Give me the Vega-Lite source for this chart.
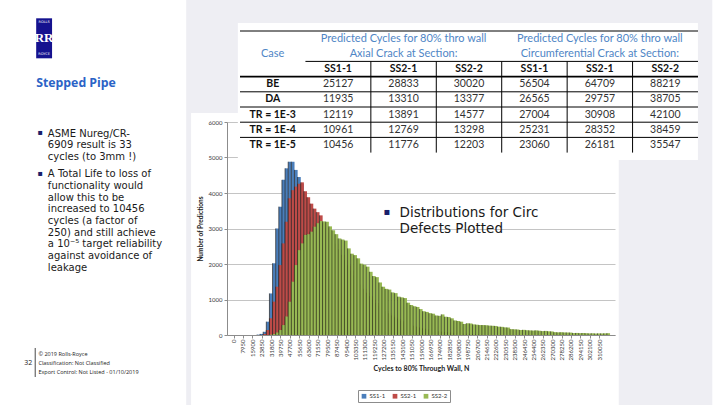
{
  "$schema": "https://vega.github.io/schema/vega-lite/v6.json",
  "width": 388,
  "height": 213,
  "autosize": {"type": "none"},
  "padding": {"left": 227, "top": 122, "right": 105, "bottom": 70},
  "background": "#ffffff",
  "config": {"view": {"stroke": null}, "font": "Open Sans"},
  "datasets": {
    "bins": [
      {"cycles": 21200, "ss11": 10},
      {"cycles": 23850, "ss11": 30},
      {"cycles": 26500, "ss11": 90, "ss21": 30},
      {"cycles": 29150, "ss11": 375, "ss21": 140},
      {"cycles": 31800, "ss11": 1170, "ss21": 470, "ss22": 10},
      {"cycles": 34450, "ss11": 2020, "ss21": 940, "ss22": 30},
      {"cycles": 37100, "ss11": 3000, "ss21": 1360, "ss22": 70},
      {"cycles": 39750, "ss11": 3615, "ss21": 1970, "ss22": 140},
      {"cycles": 42400, "ss11": 4370, "ss21": 2580, "ss22": 280},
      {"cycles": 45050, "ss11": 4695, "ss21": 3190, "ss22": 520},
      {"cycles": 47700, "ss11": 4880, "ss21": 3850, "ss22": 940},
      {"cycles": 50350, "ss11": 4880, "ss21": 4080, "ss22": 1500},
      {"cycles": 53000, "ss11": 4650, "ss21": 4180, "ss22": 1970},
      {"cycles": 55650, "ss11": 4450, "ss21": 4260, "ss22": 2390},
      {"cycles": 58300, "ss11": 4250, "ss21": 4300, "ss22": 2580},
      {"cycles": 60950, "ss11": 3950, "ss21": 4050, "ss22": 2820},
      {"cycles": 63600, "ss11": 3650, "ss21": 3880, "ss22": 2840},
      {"cycles": 66250, "ss11": 3320, "ss21": 3700, "ss22": 2910},
      {"cycles": 68900, "ss11": 2980, "ss21": 3560, "ss22": 3050},
      {"cycles": 71550, "ss11": 2660, "ss21": 3460, "ss22": 3150},
      {"cycles": 74200, "ss11": 2350, "ss21": 3370, "ss22": 3210},
      {"cycles": 76850, "ss11": 2060, "ss21": 3150, "ss22": 3200},
      {"cycles": 79500, "ss11": 1790, "ss21": 3020, "ss22": 3190},
      {"cycles": 82150, "ss11": 1550, "ss21": 2880, "ss22": 3060},
      {"cycles": 84800, "ss11": 1340, "ss21": 2730, "ss22": 2950},
      {"cycles": 87450, "ss11": 1150, "ss21": 2570, "ss22": 2840},
      {"cycles": 90100, "ss11": 985, "ss21": 2410, "ss22": 2720},
      {"cycles": 92750, "ss11": 840, "ss21": 2260, "ss22": 2690},
      {"cycles": 95400, "ss11": 715, "ss21": 2110, "ss22": 2660},
      {"cycles": 98050, "ss11": 605, "ss21": 1960, "ss22": 2440},
      {"cycles": 100700, "ss11": 510, "ss21": 1820, "ss22": 2290},
      {"cycles": 103350, "ss11": 430, "ss21": 1680, "ss22": 2250},
      {"cycles": 106000, "ss11": 360, "ss21": 1550, "ss22": 2160},
      {"cycles": 108650, "ss11": 300, "ss21": 1420, "ss22": 2010},
      {"cycles": 111300, "ss11": 250, "ss21": 1300, "ss22": 1980},
      {"cycles": 113950, "ss11": 208, "ss21": 1190, "ss22": 1925},
      {"cycles": 116600, "ss11": 172, "ss21": 1090, "ss22": 1780},
      {"cycles": 119250, "ss11": 142, "ss21": 990, "ss22": 1660},
      {"cycles": 121900, "ss11": 117, "ss21": 900, "ss22": 1630},
      {"cycles": 124550, "ss11": 96, "ss21": 820, "ss22": 1480},
      {"cycles": 127200, "ss11": 79, "ss21": 745, "ss22": 1360},
      {"cycles": 129850, "ss11": 65, "ss21": 675, "ss22": 1300},
      {"cycles": 132500, "ss11": 53, "ss21": 610, "ss22": 1280},
      {"cycles": 135150, "ss11": 43, "ss21": 550, "ss22": 1200},
      {"cycles": 137800, "ss11": 35, "ss21": 495, "ss22": 1180},
      {"cycles": 140450, "ss11": 28, "ss21": 445, "ss22": 1080},
      {"cycles": 143100, "ss11": 23, "ss21": 400, "ss22": 1060},
      {"cycles": 145750, "ss11": 18, "ss21": 360, "ss22": 1040},
      {"cycles": 148400, "ss11": 15, "ss21": 322, "ss22": 910},
      {"cycles": 151050, "ss11": 12, "ss21": 288, "ss22": 845},
      {"cycles": 153700, "ss11": 9, "ss21": 258, "ss22": 810},
      {"cycles": 156350, "ss11": 7, "ss21": 230, "ss22": 790},
      {"cycles": 159000, "ss11": 5, "ss21": 205, "ss22": 730},
      {"cycles": 161650, "ss21": 182, "ss22": 670},
      {"cycles": 164300, "ss21": 162, "ss22": 650},
      {"cycles": 166950, "ss21": 144, "ss22": 615},
      {"cycles": 169600, "ss21": 128, "ss22": 600},
      {"cycles": 172250, "ss21": 114, "ss22": 550},
      {"cycles": 174900, "ss21": 101, "ss22": 540},
      {"cycles": 177550, "ss21": 90, "ss22": 580},
      {"cycles": 180200, "ss21": 80, "ss22": 515},
      {"cycles": 182850, "ss21": 71, "ss22": 505},
      {"cycles": 185500, "ss21": 63, "ss22": 470},
      {"cycles": 188150, "ss21": 56, "ss22": 410},
      {"cycles": 190800, "ss21": 50, "ss22": 395},
      {"cycles": 193450, "ss21": 44, "ss22": 375},
      {"cycles": 196100, "ss21": 39, "ss22": 310},
      {"cycles": 198750, "ss21": 35, "ss22": 330},
      {"cycles": 201400, "ss21": 31, "ss22": 325},
      {"cycles": 204050, "ss21": 27, "ss22": 300},
      {"cycles": 206700, "ss21": 24, "ss22": 290},
      {"cycles": 209350, "ss21": 21, "ss22": 280},
      {"cycles": 212000, "ss21": 19, "ss22": 280},
      {"cycles": 214650, "ss22": 275},
      {"cycles": 217300, "ss22": 265},
      {"cycles": 219950, "ss22": 260},
      {"cycles": 222600, "ss22": 255},
      {"cycles": 225250, "ss22": 235},
      {"cycles": 227900, "ss22": 230},
      {"cycles": 230550, "ss22": 215},
      {"cycles": 233200, "ss22": 210},
      {"cycles": 235850, "ss22": 165},
      {"cycles": 238500, "ss22": 160},
      {"cycles": 241150, "ss22": 155},
      {"cycles": 243800, "ss22": 140},
      {"cycles": 246450, "ss22": 145},
      {"cycles": 249100, "ss22": 135},
      {"cycles": 251750, "ss22": 130},
      {"cycles": 254400, "ss22": 125},
      {"cycles": 257050, "ss22": 130},
      {"cycles": 259700, "ss22": 120},
      {"cycles": 262350, "ss22": 110},
      {"cycles": 265000, "ss22": 115},
      {"cycles": 267650, "ss22": 105},
      {"cycles": 270300, "ss22": 100},
      {"cycles": 272950, "ss22": 80},
      {"cycles": 275600, "ss22": 75},
      {"cycles": 278250, "ss22": 78},
      {"cycles": 280900, "ss22": 72},
      {"cycles": 283550, "ss22": 70},
      {"cycles": 286200, "ss22": 68},
      {"cycles": 288850, "ss22": 55},
      {"cycles": 291500, "ss22": 58},
      {"cycles": 294150, "ss22": 52},
      {"cycles": 296800, "ss22": 55},
      {"cycles": 299450, "ss22": 50},
      {"cycles": 302100, "ss22": 45},
      {"cycles": 304750, "ss22": 48},
      {"cycles": 307400, "ss22": 42},
      {"cycles": 310050, "ss22": 45},
      {"cycles": 312700, "ss22": 44},
      {"cycles": 315350, "ss22": 46},
      {"cycles": 318000, "ss22": 50}
    ],
    "tHead": [
      {"r": "H1", "c": "A2", "t": "Predicted Cycles for 80% thro wall"},
      {"r": "H2", "c": "A2", "t": "Axial Crack at Section:"},
      {"r": "H1", "c": "C2", "t": "Predicted Cycles for 80% thro wall"},
      {"r": "H2", "c": "C2", "t": "Circumferential Crack at Section:"},
      {"r": "H2", "c": "Case", "t": "Case"}
    ],
    "tLabel": [
      {"r": "SS", "c": "A1", "t": "SS1-1"},
      {"r": "SS", "c": "A2", "t": "SS2-1"},
      {"r": "SS", "c": "A3", "t": "SS2-2"},
      {"r": "SS", "c": "C1", "t": "SS1-1"},
      {"r": "SS", "c": "C2", "t": "SS2-1"},
      {"r": "SS", "c": "C3", "t": "SS2-2"},
      {"r": "BE", "c": "Case", "t": "BE"},
      {"r": "DA", "c": "Case", "t": "DA"},
      {"r": "E3", "c": "Case", "t": "TR = 1E-3"},
      {"r": "E4", "c": "Case", "t": "TR = 1E-4"},
      {"r": "E5", "c": "Case", "t": "TR = 1E-5"}
    ],
    "tVal": [
      {"r": "BE", "c": "A1", "v": 25127}, {"r": "BE", "c": "A2", "v": 28833}, {"r": "BE", "c": "A3", "v": 30020},
      {"r": "BE", "c": "C1", "v": 56504}, {"r": "BE", "c": "C2", "v": 64709}, {"r": "BE", "c": "C3", "v": 88219},
      {"r": "DA", "c": "A1", "v": 11935}, {"r": "DA", "c": "A2", "v": 13310}, {"r": "DA", "c": "A3", "v": 13377},
      {"r": "DA", "c": "C1", "v": 26565}, {"r": "DA", "c": "C2", "v": 29757}, {"r": "DA", "c": "C3", "v": 38705},
      {"r": "E3", "c": "A1", "v": 12119}, {"r": "E3", "c": "A2", "v": 13891}, {"r": "E3", "c": "A3", "v": 14577},
      {"r": "E3", "c": "C1", "v": 27004}, {"r": "E3", "c": "C2", "v": 30908}, {"r": "E3", "c": "C3", "v": 42100},
      {"r": "E4", "c": "A1", "v": 10961}, {"r": "E4", "c": "A2", "v": 12769}, {"r": "E4", "c": "A3", "v": 13298},
      {"r": "E4", "c": "C1", "v": 25231}, {"r": "E4", "c": "C2", "v": 28352}, {"r": "E4", "c": "C3", "v": 38459},
      {"r": "E5", "c": "A1", "v": 10456}, {"r": "E5", "c": "A2", "v": 11776}, {"r": "E5", "c": "A3", "v": 12203},
      {"r": "E5", "c": "C1", "v": 23060}, {"r": "E5", "c": "C2", "v": 26181}, {"r": "E5", "c": "C3", "v": 35547}
    ],
    "hLines": [
      {"r": "y0", "a": "x0", "b": "x7"},
      {"r": "y2", "a": "x1", "b": "x7"},
      {"r": "y4", "a": "x0", "b": "x7"},
      {"r": "y5", "a": "x0", "b": "x7"},
      {"r": "y6", "a": "x0", "b": "x7"},
      {"r": "y7", "a": "x0", "b": "x7"}
    ],
    "hLineThick": [
      {"r": "y3", "a": "x0", "b": "x7"}
    ],
    "vLines": [
      {"c": "x2", "r1": "y2", "r2": "y8"},
      {"c": "x3", "r1": "y2", "r2": "y8"},
      {"c": "x4", "r1": "y2", "r2": "y8"},
      {"c": "x5", "r1": "y2", "r2": "y8"},
      {"c": "x6", "r1": "y2", "r2": "y8"}
    ]
  },
  "layer": [
    {
      "data": {"name": "bins"},
      "layer": [
        {"data": {"values": [{}]}, "mark": {"type": "rect", "color": "#eeeef3"},
         "encoding": {"x": {"datum": -40167, "type": "quantitative"}, "x2": {"datum": 406100}, "y": {"datum": 9437, "type": "quantitative"}, "y2": {"datum": 8789}}},
        {"data": {"values": [{}]}, "mark": {"type": "rect", "color": "#eeeef3"},
         "encoding": {"x": {"datum": -40167, "type": "quantitative"}, "x2": {"datum": 5286}, "y": {"datum": 8789, "type": "quantitative"}, "y2": {"datum": 6254}}},
        {"data": {"values": [{}]}, "mark": {"type": "rect", "color": "#eeeef3"},
         "encoding": {"x": {"datum": -40167, "type": "quantitative"}, "x2": {"datum": -36035}, "y": {"datum": 6254, "type": "quantitative"}, "y2": {"datum": -1972}}},
        {"data": {"values": [{}]}, "mark": {"type": "rect", "color": "#eeeef3"},
         "encoding": {"x": {"datum": 393704, "type": "quantitative"}, "x2": {"datum": 406100}, "y": {"datum": 8789, "type": "quantitative"}, "y2": {"datum": 4930}}},
        {"data": {"values": [{}]}, "mark": {"type": "rect", "color": "#eeeef3"},
         "encoding": {"x": {"datum": 326764, "type": "quantitative"}, "x2": {"datum": 406100}, "y": {"datum": 4930, "type": "quantitative"}, "y2": {"datum": -1972}}},
        {"data": {"values": [{}]}, "mark": {"type": "rect", "color": "#15128f"},
         "encoding": {"x": {"datum": -167435, "type": "quantitative"}, "x2": {"datum": -153965}, "y": {"datum": 8921, "type": "quantitative"}, "y2": {"datum": 7794}}},
        {"data": {"values": [{}]}, "mark": {"type": "text", "text": "ROLLS", "font": "DejaVu Sans", "fontSize": 3.5, "color": "#ffffff", "align": "center", "baseline": "middle"},
         "encoding": {"x": {"datum": -160700, "type": "quantitative"}, "y": {"datum": 8803, "type": "quantitative"}}},
        {"data": {"values": [{}]}, "mark": {"type": "text", "text": "RR", "font": "Liberation Serif", "fontWeight": "bold", "fontSize": 13, "color": "#ffffff", "align": "center", "baseline": "middle"},
         "encoding": {"x": {"datum": -160700, "type": "quantitative"}, "y": {"datum": 8380, "type": "quantitative"}}},
        {"data": {"values": [{}]}, "mark": {"type": "text", "text": "ROYCE", "font": "DejaVu Sans", "fontSize": 3.5, "color": "#ffffff", "align": "center", "baseline": "middle"},
         "encoding": {"x": {"datum": -160700, "type": "quantitative"}, "y": {"datum": 7915, "type": "quantitative"}}},
        {
          "mark": {"type": "bar", "width": 3.21, "color": "#4a7ebb"},
          "encoding": {
            "x": {"field": "cycles", "type": "quantitative", "title": "Cycles to 80% Through Wall, N",
                  "scale": {"domain": [-1325, 319325], "nice": false, "zero": false},
                  "axis": {"values": [0, 7950, 15900, 23850, 31800, 39750, 47700, 55650, 63600, 71550, 79500, 87450, 95400, 103350, 111300, 119250, 127200, 135150, 143100, 151050, 159000, 166950, 174900, 182850, 190800, 198750, 206700, 214650, 222600, 230550, 238500, 246450, 254400, 262350, 270300, 278250, 286200, 294150, 302100, 310050],
                           "tickCount": 200,
                           "format": "d", "labelAngle": -90, "labelFontSize": 6, "labelFont": "Lato", "labelColor": "#3a3a3a", "labelPadding": 1,
                           "tickSize": 3, "tickColor": "#8c8c8c", "domainColor": "#8c8c8c", "grid": false, "labelOverlap": false, "labelFlush": false,
                           "titleFont": "Lato", "titleFontSize": 7, "titleFontWeight": "bold", "titleColor": "#222222", "titlePadding": 5}},
            "y": {"field": "ss11", "type": "quantitative", "title": "Number of Predictions",
                  "scale": {"domain": [0, 6000], "nice": false},
                  "axis": {"values": [0, 1000, 2000, 3000, 4000, 5000, 6000], "tickCount": 50, "format": "d", "grid": true, "gridColor": "#b5b5b5", "gridWidth": 0.8,
                           "labelFontSize": 6, "labelFont": "Lato", "labelColor": "#3a3a3a", "labelPadding": 2, "tickSize": 3, "tickColor": "#8c8c8c",
                           "domainColor": "#8c8c8c", "labelFlush": false, "labelOverlap": false, "titleFont": "Lato", "titleFontSize": 6.5, "titleFontWeight": "bold",
                           "titleColor": "#222222", "titlePadding": 5}},
            "color": {"datum": "SS1-1",
                      "scale": {"domain": ["SS1-1", "SS2-1", "SS2-2"], "range": ["#4a7ebb", "#be4b48", "#98b954"]},
                      "legend": {"orient": "none", "legendX": 131, "legendY": 268, "direction": "horizontal", "title": null,
                                 "strokeColor": "#8c8c8c", "padding": 2.5, "symbolType": "square", "symbolSize": 22,
                                 "labelFontSize": 6, "labelFont": "Lato", "labelColor": "#333333", "columnPadding": 6, "labelOffset": 2}}
          }
        },
        {
          "mark": {"type": "rule", "xOffset": -1.6, "color": "#222222", "strokeWidth": 0.7},
          "encoding": {
            "x": {"field": "cycles", "type": "quantitative", "title": "Cycles to 80% Through Wall, N"},
            "y": {"field": "ss11", "type": "quantitative", "title": "Number of Predictions"},
            "y2": {"datum": 0}
          }
        },
        {
          "mark": {"type": "bar", "width": 3.21},
          "encoding": {
            "x": {"field": "cycles", "type": "quantitative", "title": "Cycles to 80% Through Wall, N"},
            "y": {"field": "ss21", "type": "quantitative", "title": "Number of Predictions"},
            "color": {"datum": "SS2-1"}
          }
        },
        {
          "mark": {"type": "rule", "xOffset": -1.6, "color": "#222222", "strokeWidth": 0.7},
          "encoding": {
            "x": {"field": "cycles", "type": "quantitative", "title": "Cycles to 80% Through Wall, N"},
            "y": {"field": "ss21", "type": "quantitative", "title": "Number of Predictions"},
            "y2": {"datum": 0}
          }
        },
        {
          "mark": {"type": "bar", "width": 3.21},
          "encoding": {
            "x": {"field": "cycles", "type": "quantitative", "title": "Cycles to 80% Through Wall, N"},
            "y": {"field": "ss22", "type": "quantitative", "title": "Number of Predictions"},
            "color": {"datum": "SS2-2"}
          }
        },
        {
          "mark": {"type": "rule", "xOffset": -1.6, "color": "#2a2f1a", "strokeWidth": 0.7},
          "encoding": {
            "x": {"field": "cycles", "type": "quantitative", "title": "Cycles to 80% Through Wall, N"},
            "y": {"field": "ss22", "type": "quantitative", "title": "Number of Predictions"},
            "y2": {"datum": 0}
          }
        },
        {"data": {"values": [{}]}, "mark": {"type": "rect", "color": "#ffffff"},
         "encoding": {"x": {"datum": 3633, "type": "quantitative"}, "x2": {"datum": 393704}, "y": {"datum": 8789, "type": "quantitative"}, "y2": {"datum": 4930}}},
        {"data": {"values": [{}]}, "mark": {"type": "text", "text": "Stepped Pipe", "font": "Open Sans", "fontWeight": "bold", "fontSize": 12.3, "color": "#2b63c6", "align": "left", "baseline": "middle"},
         "encoding": {"x": {"datum": -167435, "type": "quantitative"}, "y": {"datum": 7099, "type": "quantitative"}}},
        {"data": {"values": [{}]}, "mark": {"type": "text", "text": "▪", "font": "DejaVu Sans", "fontSize": 8, "color": "#1a1f6b", "align": "center", "baseline": "middle"},
         "encoding": {"x": {"datum": -164130, "type": "quantitative"}, "y": {"datum": 5682, "type": "quantitative"}}},
        {"data": {"values": [{}]}, "mark": {"type": "text", "text": "▪", "font": "DejaVu Sans", "fontSize": 8, "color": "#1a1f6b", "align": "center", "baseline": "middle"},
         "encoding": {"x": {"datum": -164130, "type": "quantitative"}, "y": {"datum": 4535, "type": "quantitative"}}},
        {"data": {"values": [{}]}, "mark": {"type": "text", "text": ["ASME Nureg/CR-", "6909 result is 33", "cycles (to 3mm !)"], "font": "DejaVu Sans", "fontSize": 10, "lineHeight": 11.7, "color": "#1a1a1a", "align": "left", "baseline": "top"},
         "encoding": {"x": {"datum": -157518, "type": "quantitative"}, "y": {"datum": 5814, "type": "quantitative"}}},
        {"data": {"values": [{}]}, "mark": {"type": "text", "text": ["A Total Life to loss of", "functionality would", "allow this to be", "increased to 10456", "cycles (a factor of", "250) and still achieve", "a 10⁻⁵ target reliability", "against avoidance of", "leakage"], "font": "DejaVu Sans", "fontSize": 10, "lineHeight": 11.7, "color": "#1a1a1a", "align": "left", "baseline": "top"},
         "encoding": {"x": {"datum": -157518, "type": "quantitative"}, "y": {"datum": 4668, "type": "quantitative"}}},
        {"data": {"values": [{}]}, "mark": {"type": "text", "text": "▪", "font": "DejaVu Sans", "fontSize": 10, "color": "#1a1f6b", "align": "center", "baseline": "middle"},
         "encoding": {"x": {"datum": 130076, "type": "quantitative"}, "y": {"datum": 3465, "type": "quantitative"}}},
        {"data": {"values": [{}]}, "mark": {"type": "text", "text": ["Distributions for Circ", "Defects Plotted"], "font": "DejaVu Sans", "fontSize": 13.5, "lineHeight": 16.6, "color": "#1a1a1a", "align": "left", "baseline": "top"},
         "encoding": {"x": {"datum": 140819, "type": "quantitative"}, "y": {"datum": 3642, "type": "quantitative"}}},
        {"data": {"values": [{}]}, "mark": {"type": "text", "text": ["© 2019 Rolls-Royce", "Classification: Not Classified", "Export Control: Not Listed - 01/10/2019"], "font": "Open Sans", "fontSize": 5.5, "lineHeight": 9, "color": "#1a1a1a", "align": "left", "baseline": "top"},
         "encoding": {"x": {"datum": -165535, "type": "quantitative"}, "y": {"datum": -468, "type": "quantitative"}}},
        {"data": {"values": [{}]}, "mark": {"type": "text", "text": "32", "font": "Open Sans", "fontSize": 7, "color": "#1a1a1a", "align": "right", "baseline": "middle"},
         "encoding": {"x": {"datum": -170741, "type": "quantitative"}, "y": {"datum": -789, "type": "quantitative"}}},
        {"data": {"values": [{}]}, "mark": {"type": "rule", "color": "#1a1a1a", "strokeWidth": 0.8},
         "encoding": {"x": {"datum": -168260, "type": "quantitative"}, "y": {"datum": -366, "type": "quantitative"}, "y2": {"datum": -1183}}}
      ]
    },
    {
      "layer": [
        {
          "data": {"name": "tHead"},
          "mark": {"type": "text", "font": "Lato", "fontSize": 11, "color": "#4f86c6", "align": "center", "baseline": "middle"},
          "encoding": {
            "x": {"field": "c", "type": "nominal", "axis": null,
                  "scale": {"type": "point", "domain": ["x0", "Case", "x1", "A1", "x2", "A2", "x3", "A3", "x4", "C1", "x5", "C2", "x6", "C3", "x7"], "range": [13, 471], "padding": 0}},
            "y": {"field": "r", "type": "nominal", "axis": null,
                  "scale": {"type": "point", "domain": ["y0", "H1", "y1", "H2", "y2", "SS", "y3", "BE", "y4", "DA", "y5", "E3", "y6", "E4", "y7", "E5", "y8"], "range": [-91, 30.6], "padding": 0}},
            "text": {"field": "t", "type": "nominal"}
          }
        },
        {
          "data": {"name": "tLabel"},
          "mark": {"type": "text", "font": "Lato", "fontSize": 10.5, "fontWeight": "bold", "color": "#111111", "align": "center", "baseline": "middle"},
          "encoding": {
            "x": {"field": "c", "type": "nominal", "axis": null},
            "y": {"field": "r", "type": "nominal", "axis": null},
            "text": {"field": "t", "type": "nominal"}
          }
        },
        {
          "data": {"name": "tVal"},
          "mark": {"type": "text", "font": "Lato", "fontSize": 10.5, "color": "#333333", "align": "center", "baseline": "middle"},
          "encoding": {
            "x": {"field": "c", "type": "nominal", "axis": null},
            "y": {"field": "r", "type": "nominal", "axis": null},
            "text": {"field": "v", "type": "quantitative", "format": "d"}
          }
        },
        {
          "data": {"name": "hLines"},
          "mark": {"type": "rule", "color": "#000000", "strokeWidth": 1},
          "encoding": {
            "x": {"field": "a", "type": "nominal", "axis": null},
            "x2": {"field": "b"},
            "y": {"field": "r", "type": "nominal", "axis": null}
          }
        },
        {
          "data": {"name": "hLineThick"},
          "mark": {"type": "rule", "color": "#000000", "strokeWidth": 1.8},
          "encoding": {
            "x": {"field": "a", "type": "nominal", "axis": null},
            "x2": {"field": "b"},
            "y": {"field": "r", "type": "nominal", "axis": null}
          }
        },
        {
          "data": {"name": "vLines"},
          "mark": {"type": "rule", "color": "#000000", "strokeWidth": 1},
          "encoding": {
            "x": {"field": "c", "type": "nominal", "axis": null},
            "y": {"field": "r1", "type": "nominal", "axis": null},
            "y2": {"field": "r2"}
          }
        }
      ]
    }
  ],
  "resolve": {"scale": {"x": "independent", "y": "independent"}}
}
